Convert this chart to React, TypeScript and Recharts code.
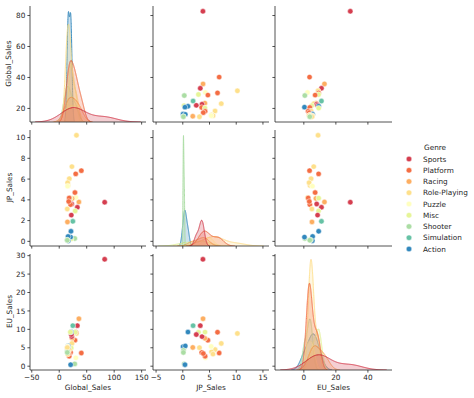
import React from 'react';
import { ComposedChart, Scatter, Area, XAxis, YAxis } from 'recharts';

// ---------- data ----------
const genres = ['Sports', 'Platform', 'Racing', 'Role-Playing', 'Puzzle', 'Misc', 'Shooter', 'Simulation', 'Action'];
const palette = ['#d53e4f', '#f46d43', '#fdae61', '#fee08b', '#ffffbf', '#e6f598', '#abdda4', '#66c2a5', '#3288bd'];

const gameGenre = [
  'Sports', 'Platform', 'Racing', 'Sports', 'Role-Playing', 'Puzzle', 'Platform', 'Misc',
  'Platform', 'Shooter', 'Simulation', 'Racing', 'Role-Playing', 'Sports', 'Sports', 'Misc',
  'Action', 'Action', 'Platform', 'Misc', 'Role-Playing', 'Platform', 'Platform', 'Action',
  'Action', 'Role-Playing', 'Role-Playing', 'Puzzle', 'Racing', 'Shooter', 'Role-Playing', 'Shooter',
];
const globalSales = [
  82.74, 40.24, 35.82, 33.0, 31.37, 30.26, 30.01, 29.02,
  28.62, 28.31, 24.76, 23.42, 23.1, 22.72, 22.0, 21.82,
  21.4, 20.81, 20.61, 20.22, 18.36, 18.14, 17.28, 16.38,
  16.15, 15.85, 15.32, 15.3, 14.98, 14.76, 14.64, 14.64,
];
const jpSales = [
  3.77, 6.81, 3.79, 3.28, 10.22, 4.22, 6.5, 2.93,
  4.7, 0.28, 1.93, 4.13, 7.2, 3.6, 2.53, 0.24,
  0.97, 0.41, 3.54, 4.16, 6.04, 4.18, 3.84, 0.06,
  0.47, 5.38, 5.65, 5.32, 1.87, 0.13, 3.12, 0.11,
];
const euSales = [
  29.02, 3.58, 12.88, 11.01, 8.89, 2.26, 9.23, 9.2,
  7.06, 0.63, 11.0, 7.57, 6.18, 8.03, 8.59, 4.94,
  9.27, 0.4, 3.75, 9.26, 4.52, 2.71, 3.44, 5.31,
  5.49, 3.9, 3.28, 5.36, 5.09, 4.28, 5.04, 3.73,
];

const varNames = ['Global_Sales', 'JP_Sales', 'EU_Sales'];
const globalXTicks = [-50, 0, 50, 100, 150];
const jpXTicks = [-5, 0, 5, 10, 15];
const euXTicks = [0, 20, 40];
const globalYTicks = [20, 40, 60, 80];
const jpYTicks = [0, 2, 4, 6, 8, 10];
const euYTicks = [0, 5, 10, 15, 20, 25, 30];

// ---------- layout ----------
const COL_L = [30, 153, 275];
const COL_W = [116, 116, 117];
const ROW_T = [5.6, 129.5, 253.5];
const PH = 116;
const YW = 30;
const MR = 4;
const MT = 4;
const XH = 20;
const FONT = "'DejaVu Sans', sans-serif";
const FS = 7.3;
const INK = '#262626';

// ---------- KDE (gaussian, Scott bandwidth, common_norm) ----------
type Kde = { lo: number; hi: number; grid: number[]; f: (x: number) => number };
function kdeFor(vals: number[], total: number): Kde | null {
  const n = vals.length;
  if (n < 2) return null;
  const mean = vals.reduce((a, b) => a + b, 0) / n;
  const v = vals.reduce((a, b) => a + (b - mean) * (b - mean), 0) / (n - 1);
  if (v <= 0) return null;
  const bw = Math.sqrt(v) * Math.pow(n, -0.2);
  const lo = Math.min(...vals) - 3 * bw;
  const hi = Math.max(...vals) + 3 * bw;
  const grid = Array.from({ length: 200 }, (_, i) => lo + ((hi - lo) * i) / 199);
  const norm = bw * Math.sqrt(2 * Math.PI) * n;
  const f = (x: number) =>
    (vals.reduce((s, xi) => s + Math.exp(-0.5 * ((x - xi) / bw) ** 2), 0) / norm) * (n / total);
  return { lo, hi, grid, f };
}

function buildDiag(values: number[]) {
  const total = values.length;
  const kdes = genres.map((g) => kdeFor(values.filter((_, i) => gameGenre[i] === g), total));
  const xsSet: number[] = [];
  kdes.forEach((k) => k && xsSet.push(...k.grid));
  const xs = xsSet.sort((a, b) => a - b);
  let maxD = 0;
  const rows = xs.map((x) => {
    const r: Record<string, number | null> = { x };
    genres.forEach((g, k) => {
      const K = kdes[k];
      if (K && x >= K.lo - 1e-9 && x <= K.hi + 1e-9) {
        const d = K.f(x);
        r[g] = d;
        if (d > maxD) maxD = d;
      } else r[g] = null;
    });
    return r;
  });
  const supLo = Math.min(...kdes.filter(Boolean).map((k) => (k as Kde).lo));
  const supHi = Math.max(...kdes.filter(Boolean).map((k) => (k as Kde).hi));
  return { rows, kdes, maxD, supLo, supHi };
}

const vars = [globalSales, jpSales, euSales];
const xTicks = [globalXTicks, jpXTicks, euXTicks];
const yTicks = [globalYTicks, jpYTicks, euYTicks];

function pad(lo: number, hi: number): [number, number] {
  const d = hi - lo;
  return [lo - 0.05 * d, hi + 0.05 * d];
}

const diag = vars.map((v) => buildDiag(v));
const colDomains = vars.map((v, i) =>
  pad(Math.min(diag[i].supLo, Math.min(...v)), Math.max(diag[i].supHi, Math.max(...v)))
);
const rowDomains = vars.map((v) => pad(Math.min(...v), Math.max(...v)));

const fmt = (v: number) => (v < 0 ? '\u2212' + Math.abs(v) : String(v));
const lineStyle = { stroke: INK, strokeWidth: 0.8 };
const tickStyle = { fontSize: FS, fill: INK, fontFamily: FONT };
const noTick = () => <g />;

function Dot(props: any) {
  const { cx, cy, payload } = props;
  if (cx == null || cy == null) return <g />;
  return <circle cx={cx} cy={cy} r={2.7} fill={payload.color} stroke="#ffffff" strokeWidth={0.5} />;
}

function Panel({ r, c }: { r: number; c: number }) {
  const W = COL_W[c];
  const width = YW + W + MR;
  const height = MT + PH + XH;
  const style: React.CSSProperties = {
    position: 'absolute',
    left: COL_L[c] - YW,
    top: ROW_T[r] - MT,
    width,
    height,
  };
  const margin = { top: MT, right: MR, left: 0, bottom: 0 };
  const xAxis = (
    <XAxis
      type="number"
      dataKey="x"
      domain={colDomains[c]}
      allowDataOverflow
      ticks={xTicks[c]}
      interval={0}
      tickSize={2.6}
      tickMargin={2}
      axisLine={lineStyle}
      tickLine={lineStyle}
      tick={r === 2 ? tickStyle : noTick}
      tickFormatter={fmt}
      height={XH}
    />
  );
  if (r === c) {
    const d = diag[c];
    const order = genres.map((g, k) => ({ g, k })).filter(({ k }) => d.kdes[k]).reverse();
    return (
      <div style={style}>
        <ComposedChart width={width} height={height} margin={margin} data={d.rows}>
          {xAxis}
          <YAxis
            yAxisId="row"
            type="number"
            orientation="left"
            domain={rowDomains[r]}
            allowDataOverflow
            ticks={yTicks[r]}
            interval={0}
            tickSize={2.6}
            tickMargin={2}
            axisLine={lineStyle}
            tickLine={lineStyle}
            tick={c === 0 ? tickStyle : noTick}
            tickFormatter={fmt}
            width={YW}
          />
          <YAxis
            yAxisId="kde"
            type="number"
            orientation="right"
            hide
            width={0}
            domain={[0, d.maxD * 1.05]}
            allowDataOverflow
          />
          {order.map(({ g, k }) => (
            <Area
              key={g}
              yAxisId="kde"
              dataKey={g}
              type="linear"
              stroke={palette[k]}
              strokeWidth={1}
              fill={palette[k]}
              fillOpacity={0.25}
              dot={false}
              activeDot={false}
              connectNulls={false}
              isAnimationActive={false}
            />
          ))}
        </ComposedChart>
      </div>
    );
  }
  const points = gameGenre.map((g, i) => ({
    x: vars[c][i],
    y: vars[r][i],
    color: palette[genres.indexOf(g)],
  }));
  return (
    <div style={style}>
      <ComposedChart width={width} height={height} margin={margin}>
        {xAxis}
        <YAxis
          type="number"
          dataKey="y"
          domain={rowDomains[r]}
          allowDataOverflow
          ticks={yTicks[r]}
          interval={0}
          tickSize={2.6}
          tickMargin={2}
          axisLine={lineStyle}
          tickLine={lineStyle}
          tick={c === 0 ? tickStyle : noTick}
          tickFormatter={fmt}
          width={YW}
        />
        <Scatter data={points} shape={<Dot />} isAnimationActive={false} />
      </ComposedChart>
    </div>
  );
}

function Overlay() {
  const legendX = 409;
  const legendY0 = 159;
  const step = 11.25;
  return (
    <svg
      width={474}
      height={398}
      style={{ position: 'absolute', left: 0, top: 0, pointerEvents: 'none' }}
    >
      {varNames.map((name, i) => {
        const cy = ROW_T[i] + PH / 2;
        return (
          <text
            key={'y' + name}
            x={11.5}
            y={cy}
            transform={`rotate(-90 11.5 ${cy})`}
            textAnchor="middle"
            fontSize={FS}
            fontFamily={FONT}
            fill={INK}
          >
            {name}
          </text>
        );
      })}
      {varNames.map((name, i) => (
        <text
          key={'x' + name}
          x={COL_L[i] + COL_W[i] / 2}
          y={390}
          textAnchor="middle"
          fontSize={FS}
          fontFamily={FONT}
          fill={INK}
        >
          {name}
        </text>
      ))}
      <text x={424} y={149.5} fontSize={FS} fontFamily={FONT} fill={INK}>
        Genre
      </text>
      {genres.map((g, k) => (
        <g key={g}>
          <circle cx={legendX} cy={legendY0 + k * step} r={2.8} fill={palette[k]} stroke="#ffffff" strokeWidth={0.5} />
          <text x={423} y={legendY0 + k * step + 2.6} fontSize={FS} fontFamily={FONT} fill={INK}>
            {g}
          </text>
        </g>
      ))}
    </svg>
  );
}

export default function App() {
  const panels: React.ReactNode[] = [];
  for (let r = 0; r < 3; r++) {
    for (let c = 0; c < 3; c++) {
      panels.push(<Panel key={`${r}-${c}`} r={r} c={c} />);
    }
  }
  return (
    <div
      style={{
        position: 'absolute',
        left: 0,
        top: 0,
        width: 474,
        height: 398,
        background: '#ffffff',
        fontFamily: FONT,
        overflow: 'hidden',
      }}
    >
      {panels}
      <Overlay />
    </div>
  );
}
